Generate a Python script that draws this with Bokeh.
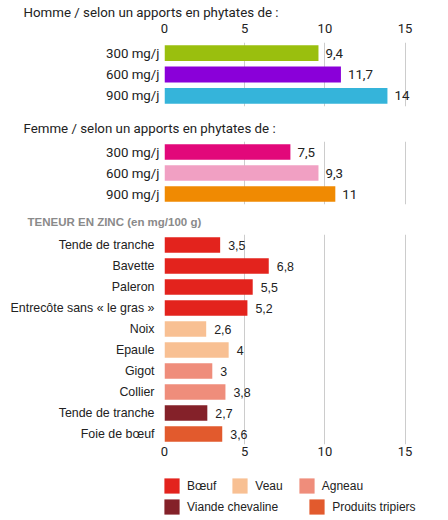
from bokeh.plotting import figure
from bokeh.models import Range1d, FixedTicker, ColumnDataSource, Legend, LegendItem
from bokeh.layouts import column
from bokeh.embed import file_html
from bokeh.resources import INLINE
from bokeh.core.properties import value

# ---------------- data ----------------
x_ticks = [0, 5, 10, 15]

homme_title = "Homme / selon un apports en phytates de :"
homme_labels = ["300 mg/j", "600 mg/j", "900 mg/j"]
homme_values = [9.6, 11.0, 13.9]
homme_text = ["9,4", "11,7", "14"]
homme_colors = ["#9abf0e", "#8a00d9", "#35b4da"]

femme_title = "Femme / selon un apports en phytates de :"
femme_labels = ["300 mg/j", "600 mg/j", "900 mg/j"]
femme_values = [7.85, 9.6, 10.65]
femme_text = ["7,5", "9,3", "11"]
femme_colors = ["#e2087a", "#f1a0c3", "#f08a02"]

zinc_title = "TENEUR EN ZINC (en mg/100 g)"
zinc_labels = ["Tende de tranche", "Bavette", "Paleron", "Entrecôte sans « le gras »",
               "Noix", "Epaule", "Gigot", "Collier", "Tende de tranche", "Foie de bœuf"]
zinc_values = [3.47, 6.5, 5.5, 5.17, 2.6, 4.0, 2.98, 3.8, 2.67, 3.6]
zinc_text = ["3,5", "6,8", "5,5", "5,2", "2,6", "4", "3", "3,8", "2,7", "3,6"]
zinc_groups = ["Bœuf", "Bœuf", "Bœuf", "Bœuf", "Veau", "Veau", "Agneau", "Agneau",
               "Viande chevaline", "Produits tripiers"]
group_names = ["Bœuf", "Veau", "Agneau", "Viande chevaline", "Produits tripiers"]
group_colors = ["#e3231d", "#f8c093", "#ef8d7b", "#842129", "#e25a2d"]

# ---------------- helpers ----------------
FRAME_W = 247
X_END = 15.4
BORDER_L = 164
BORDER_R = 20
DARK = "#222222"


def make_panel(labels, values, texts, colors, title, frame_h, border_top, border_bottom,
               x_loc, label_font, label_size, label_standoff, value_offset,
               title_font, title_size, title_style, title_color, title_offset, title_standoff,
               axis_standoff=5):
    n = len(labels)
    p = figure(frame_width=FRAME_W, frame_height=frame_h,
               x_range=Range1d(0, X_END), y_range=Range1d(n - 0.5, -0.5),
               x_axis_location=x_loc, y_axis_location="left",
               toolbar_location=None, output_backend="svg",
               min_border_left=BORDER_L, min_border_right=BORDER_R,
               min_border_top=border_top, min_border_bottom=border_bottom,
               title=title)
    p.outline_line_color = None
    p.background_fill_color = "white"
    p.border_fill_color = "white"

    p.title.align = "left"
    p.title.offset = title_offset
    p.title.standoff = title_standoff
    p.title.text_font = title_font
    p.title.text_font_size = title_size
    p.title.text_font_style = title_style
    p.title.text_color = title_color

    p.xgrid.ticker = FixedTicker(ticks=x_ticks)
    p.xgrid.grid_line_color = "#cccccc"
    p.ygrid.visible = False

    if x_loc is not None:
        ax = p.xaxis[0]
        ax.ticker = FixedTicker(ticks=x_ticks)
        ax.axis_line_color = None
        ax.major_tick_line_color = None
        ax.minor_tick_line_color = None
        ax.major_tick_out = 0
        ax.major_tick_in = 0
        ax.minor_tick_out = 0
        ax.minor_tick_in = 0
        ax.major_label_standoff = axis_standoff
        ax.major_label_text_font = "Roboto"
        ax.major_label_text_font_size = "13px"
        ax.major_label_text_color = DARK

    ya = p.yaxis[0]
    ya.ticker = FixedTicker(ticks=list(range(n)))
    ya.major_label_overrides = {i: lab for i, lab in enumerate(labels)}
    ya.axis_line_color = None
    ya.major_tick_line_color = None
    ya.minor_tick_line_color = None
    ya.major_tick_out = 0
    ya.major_tick_in = 0
    ya.minor_tick_out = 0
    ya.minor_tick_in = 0
    ya.major_label_standoff = label_standoff
    ya.major_label_text_font = label_font
    ya.major_label_text_font_size = label_size
    ya.major_label_text_color = DARK

    src = ColumnDataSource(dict(y=list(range(n)), v=values, t=texts, c=colors))
    p.hbar(y="y", left=0, right="v", height=0.74, fill_color="c", line_color=None, source=src)
    p.text(x="v", y="y", text="t", x_offset=value_offset, text_baseline="middle",
           text_align="left", text_font=value(label_font), text_font_size=value(label_size),
           text_color=DARK, source=src)
    return p, src


p1, _ = make_panel(homme_labels, homme_values, homme_text, homme_colors, homme_title,
                   64, 42, 2, "above", "Roboto", "13.3px", 5, 7,
                   "Roboto", "13.3px", "normal", DARK, -141, 1, axis_standoff=10)

p2, _ = make_panel(femme_labels, femme_values, femme_text, femme_colors, femme_title,
                   63, 33, 2, None, "Roboto", "13.3px", 5, 7,
                   "Roboto", "13.3px", "normal", DARK, -141, 12)

zinc_colors = [group_colors[group_names.index(g)] for g in zinc_groups]
p3, zinc_src = make_panel(zinc_labels, zinc_values, zinc_text, zinc_colors, zinc_title,
                          210, 28, 20, "below", "Liberation Sans", "12.4px", 10, 8,
                          "Liberation Sans", "11.5px", "bold", "#8a8a8a", -137, 14,
                          axis_standoff=2)

# ---------------- legend strip ----------------
LEG_H = 56
p4 = figure(frame_width=BORDER_L + FRAME_W + BORDER_R, frame_height=LEG_H,
            x_range=Range1d(0, 1), y_range=Range1d(-1000, -999),
            x_axis_location=None, y_axis_location=None,
            toolbar_location=None, output_backend="svg", min_border=0)
p4.outline_line_color = None
p4.xgrid.visible = False
p4.ygrid.visible = False
p4.background_fill_color = "white"
p4.border_fill_color = "white"

# zero-height copy of the zinc bars: paints nothing, only feeds the legend swatches
legend_bars = p4.hbar(y="y", left=0, right=0, height=0, fill_color="c",
                      line_color=None, source=zinc_src)


def legend_row(names, loc, spacing):
    items = [LegendItem(label=nm, renderers=[legend_bars], index=zinc_groups.index(nm))
             for nm in names]
    lg = Legend(items=items, orientation="horizontal", location=loc,
                glyph_width=19, glyph_height=19, label_height=19, label_standoff=6,
                spacing=spacing, padding=0, margin=0, border_line_color=None,
                background_fill_alpha=0, label_text_font="Liberation Sans",
                label_text_font_size="12px", label_text_color=DARK)
    p4.add_layout(lg, "center")


legend_row(group_names[:3], (BORDER_L - 2, 25), 14)
legend_row(group_names[3:], (BORDER_L - 2, 4), 29)

layout = column(p1, p2, p3, p4, spacing=0)
open("out.html", "w").write(file_html(layout, INLINE))
